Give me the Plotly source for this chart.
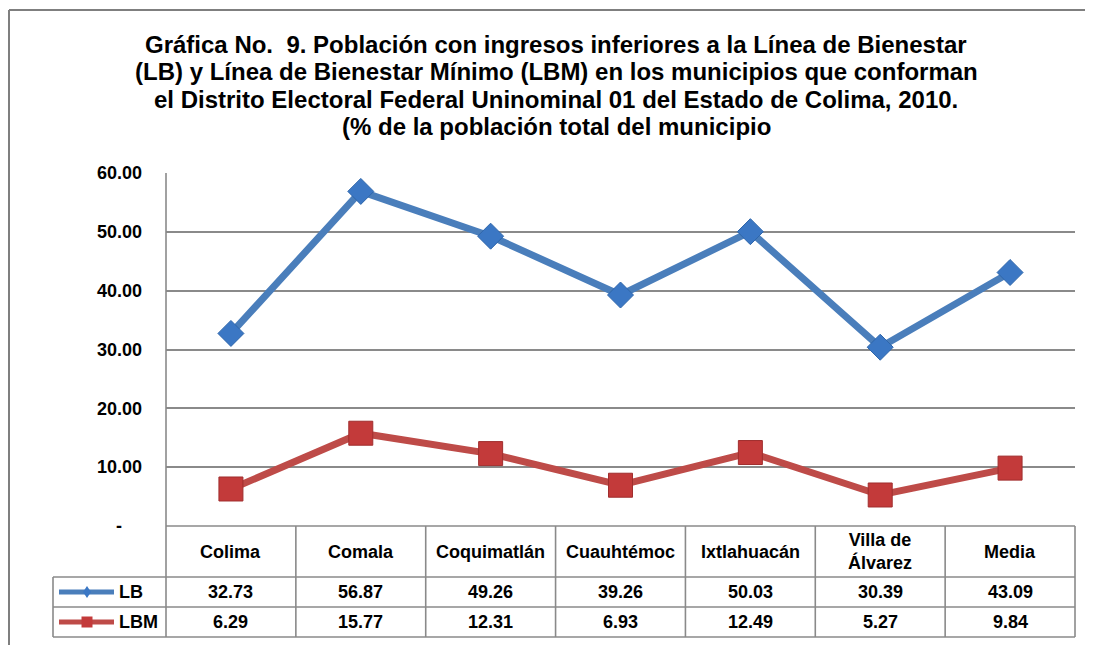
import plotly.graph_objects as go

# data
municipios = ["Colima", "Comala", "Coquimatlán", "Cuauhtémoc", "Ixtlahuacán",
              "Villa de<br>Álvarez", "Media"]
lb = [32.73, 56.87, 49.26, 39.26, 50.03, 30.39, 43.09]
lbm = [6.29, 15.77, 12.31, 6.93, 12.49, 5.27, 9.84]
y_ticks = [0, 10, 20, 30, 40, 50, 60]
y_ticktext = ["-\u2007\u2007"] + [f"{v:.2f}" for v in y_ticks[1:]]

title_lines = [
    "Gráfica No.  9. Población con ingresos inferiores a la Línea de Bienestar",
    "(LB) y Línea de Bienestar Mínimo (LBM) en los municipios que conforman",
    "el Distrito Electoral Federal Uninominal 01 del Estado de Colima, 2010.",
    "(% de la población total del municipio",
]

# the page body has an 8px margin, so the figure is drawn 8px in from the window corner
OFF = 8
WIN_W, WIN_H = 1093, 645
L, R, T, B = 166, 1075, 173, 526  # plot area in window pixels
FONT = "Liberation Sans, Arial, sans-serif"
GRID = "#8a8a8a"
BLUE, BLUE_M = "#4a7ebb", "#3b77c4"
RED, RED_M = "#be4b48", "#c33a3a"


def xp(px):
    return (px - L) / (R - L)


def yp(py):
    return (B - py) / (B - T)


def bold(size):
    return dict(family=FONT, size=size, color="black", weight="bold")


fig = go.Figure()

fig.add_trace(go.Scatter(
    x=list(range(len(lb))), y=lb, mode="lines+markers", name="LB",
    line=dict(color=BLUE, width=7),
    marker=dict(symbol="diamond", size=20, color=BLUE_M, line=dict(color="#2e66ab", width=1)),
))
fig.add_trace(go.Scatter(
    x=list(range(len(lbm))), y=lbm, mode="lines+markers", name="LBM",
    line=dict(color=RED, width=7),
    marker=dict(symbol="square", size=24, color=RED_M, line=dict(color="#a02e2e", width=1)),
))

shapes = []


def hline(x0, x1, y, color=GRID, width=1.6):
    shapes.append(dict(type="line", xref="paper", yref="paper", x0=xp(x0), x1=xp(x1),
                       y0=yp(y), y1=yp(y), line=dict(color=color, width=width)))


def vline(x, y0, y1, color=GRID, width=1.6):
    shapes.append(dict(type="line", xref="paper", yref="paper", x0=xp(x), x1=xp(x),
                       y0=yp(y0), y1=yp(y1), line=dict(color=color, width=width)))


# left axis line, drawn as a shape so it lines up with the table columns
vline(L, T, B)

# data table under the plot
row_lb, row_lbm, row_end = 577, 607, 637
leg_left = 53
col_w = (R - L) / len(municipios)
hline(L, R, B)
hline(leg_left, R, row_lb)
hline(leg_left, R, row_lbm)
hline(leg_left, R, row_end)
for i in range(len(municipios) + 1):
    vline(L + i * col_w, B, row_end)
vline(leg_left, row_lb, row_end)

# outer chart border
hline(9, WIN_W + 5, 10, color="#7f7f7f", width=2)
vline(9, 10, WIN_H + 5, color="#7f7f7f", width=2)

# legend keys in the table
for yc, col in [((row_lb + row_lbm) / 2, BLUE), ((row_lbm + row_end) / 2, RED)]:
    hline(59, 114, yc, color=col, width=5)
cx, cy = 87, (row_lb + row_lbm) / 2
shapes.append(dict(type="path", xref="paper", yref="paper",
                   path=f"M {xp(cx - 4)} {yp(cy)} L {xp(cx)} {yp(cy - 6)} L {xp(cx + 4)} {yp(cy)} "
                        f"L {xp(cx)} {yp(cy + 6)} Z",
                   fillcolor=BLUE_M, line=dict(width=0)))
cy = (row_lbm + row_end) / 2
shapes.append(dict(type="rect", xref="paper", yref="paper",
                   x0=xp(cx - 5.5), x1=xp(cx + 5.5), y0=yp(cy + 5.5), y1=yp(cy - 5.5),
                   fillcolor=RED_M, line=dict(width=0)))

annotations = []
for k, line in enumerate(title_lines):
    annotations.append(dict(text=line, xref="paper", yref="paper", x=xp(556), y=yp(44 + k * 27.6),
                            xanchor="center", yanchor="middle", showarrow=False, font=bold(24)))

for i, name in enumerate(municipios):
    for text, yc in [(name, (B + row_lb) / 2),
                     (f"{lb[i]:.2f}", (row_lb + row_lbm) / 2),
                     (f"{lbm[i]:.2f}", (row_lbm + row_end) / 2)]:
        annotations.append(dict(text=text, xref="x", yref="paper", x=i, y=yp(yc),
                                xanchor="center", yanchor="middle", showarrow=False,
                                font=bold(18)))

for label, yc in [("LB", (row_lb + row_lbm) / 2), ("LBM", (row_lbm + row_end) / 2)]:
    annotations.append(dict(text=label, xref="paper", yref="paper", x=xp(117), y=yp(yc),
                            xanchor="left", yanchor="middle", showarrow=False, font=bold(18)))

fig.update_layout(
    width=WIN_W - OFF, height=WIN_H - OFF, autosize=False,
    margin=dict(l=L - OFF, r=WIN_W - R, t=T - OFF, b=WIN_H - B, pad=0),
    paper_bgcolor="white", plot_bgcolor="white",
    showlegend=False,
    shapes=shapes, annotations=annotations,
    xaxis=dict(range=[-0.5, len(municipios) - 0.5], showticklabels=False, showgrid=False,
               zeroline=False, showline=False, fixedrange=True),
    yaxis=dict(range=[0, 60], tickvals=y_ticks, ticktext=y_ticktext, showgrid=True,
               gridcolor=GRID, gridwidth=1.6, zeroline=False, showline=False,
               ticks="", ticklabelstandoff=23, tickfont=bold(18)),
)

fig.write_html("out.html")
